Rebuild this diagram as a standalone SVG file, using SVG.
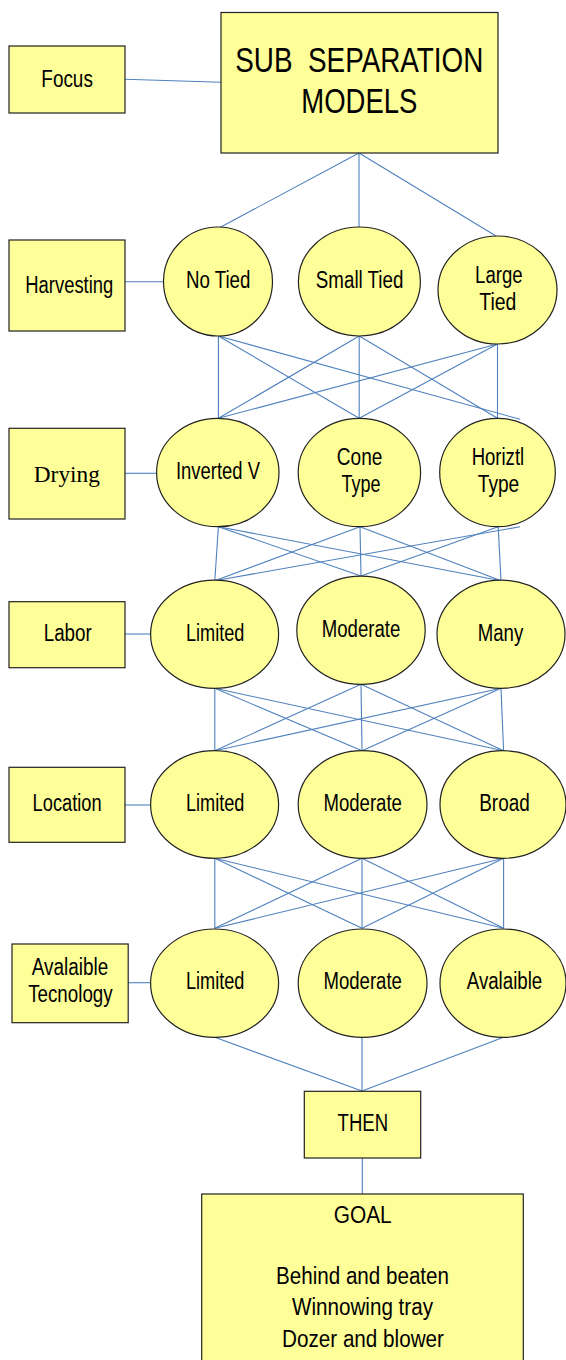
<svg xmlns="http://www.w3.org/2000/svg" width="566" height="1360" viewBox="0 0 566 1360">
<style>
.b{fill:#FFFF99;stroke:#222;stroke-width:1.2}
.t{font-family:"Liberation Sans",Arial,sans-serif;font-size:23px;fill:#000;text-anchor:middle}
.s{font-family:"Liberation Serif","Times New Roman",serif;font-size:24px;fill:#000;text-anchor:middle}
.c line{stroke:#4F81BD;stroke-width:1.1}
</style>
<rect width="566" height="1360" fill="#fff"/>
<g class="c" id="connectors">
<line x1="125" y1="79.3" x2="221" y2="82.3"/>
<line x1="359" y1="153" x2="219" y2="228"/>
<line x1="359" y1="153" x2="359" y2="228"/>
<line x1="359" y1="153" x2="496" y2="236"/>
<line x1="115.5" y1="281.7" x2="163.5" y2="281.7"/>
<line x1="218.4" y1="336" x2="218.4" y2="418.3"/>
<line x1="218.4" y1="336" x2="359.2" y2="418.3"/>
<line x1="218.4" y1="336" x2="520" y2="419.3"/>
<line x1="359.2" y1="336" x2="218.4" y2="418.3"/>
<line x1="359.2" y1="336" x2="359.2" y2="418.3"/>
<line x1="359.2" y1="336" x2="497.5" y2="418.3"/>
<line x1="497.5" y1="344" x2="218.4" y2="418.3"/>
<line x1="497.5" y1="344" x2="359.2" y2="418.3"/>
<line x1="497.5" y1="344" x2="497.5" y2="418.3"/>
<line x1="125" y1="473.3" x2="156.7" y2="473.3"/>
<line x1="218.4" y1="526.7" x2="214.8" y2="580.7"/>
<line x1="218.4" y1="526.7" x2="361" y2="576"/>
<line x1="218.4" y1="526.7" x2="501" y2="580.7"/>
<line x1="360" y1="526.7" x2="214.8" y2="580.7"/>
<line x1="360" y1="526.7" x2="361" y2="576"/>
<line x1="360" y1="526.7" x2="501" y2="580.7"/>
<line x1="520" y1="526.7" x2="214.8" y2="580.7"/>
<line x1="498.2" y1="526.7" x2="361" y2="576"/>
<line x1="498.2" y1="526.7" x2="501" y2="580.7"/>
<line x1="125" y1="634" x2="150.5" y2="634"/>
<line x1="214.8" y1="688.3" x2="214.8" y2="750.7"/>
<line x1="214.8" y1="688.3" x2="362" y2="750.7"/>
<line x1="214.8" y1="688.3" x2="503.6" y2="750.7"/>
<line x1="361" y1="684.3" x2="214.8" y2="750.7"/>
<line x1="361" y1="684.3" x2="362" y2="750.7"/>
<line x1="361" y1="684.3" x2="503.6" y2="750.7"/>
<line x1="501" y1="688.3" x2="214.8" y2="750.7"/>
<line x1="501" y1="688.3" x2="362" y2="750.7"/>
<line x1="501" y1="688.3" x2="503.6" y2="750.7"/>
<line x1="125" y1="805" x2="150.5" y2="805"/>
<line x1="214.8" y1="858.3" x2="214.8" y2="928.3"/>
<line x1="214.8" y1="858.3" x2="362" y2="928.3"/>
<line x1="214.8" y1="858.3" x2="503.6" y2="928.3"/>
<line x1="362" y1="858.3" x2="214.8" y2="928.3"/>
<line x1="362" y1="858.3" x2="362" y2="928.3"/>
<line x1="362" y1="858.3" x2="503.6" y2="928.3"/>
<line x1="503.6" y1="858.3" x2="214.8" y2="928.3"/>
<line x1="503.6" y1="858.3" x2="362" y2="928.3"/>
<line x1="503.6" y1="858.3" x2="503.6" y2="928.3"/>
<line x1="128.2" y1="982.7" x2="150.5" y2="982.7"/>
<line x1="214.8" y1="1037.3" x2="362" y2="1091"/>
<line x1="362" y1="1037.3" x2="362" y2="1091"/>
<line x1="503.6" y1="1037.3" x2="362" y2="1091"/>
<line x1="362.3" y1="1158" x2="362.3" y2="1194"/>
</g>
<g id="title"><rect class="b" x="221" y="12.5" width="277" height="140.5"/>
<text class="t" style="font-size:35px" x="359.3" y="71.7" textLength="248" lengthAdjust="spacingAndGlyphs" xml:space="preserve">SUB  SEPARATION</text>
<text class="t" style="font-size:35px" x="359.3" y="113.3" textLength="116" lengthAdjust="spacingAndGlyphs">MODELS</text></g>
<g id="focus"><rect class="b" x="9" y="46" width="116" height="67"/><text class="t" x="67.1" y="86.7" textLength="51.5" lengthAdjust="spacingAndGlyphs">Focus</text></g>
<g id="harvesting"><rect class="b" x="9" y="240" width="116" height="91"/><text class="t" x="69.3" y="293.3" textLength="88" lengthAdjust="spacingAndGlyphs">Harvesting</text></g>
<g id="notied"><ellipse class="b" cx="218" cy="281.5" rx="54.5" ry="54.5"/><text class="t" x="218.2" y="288.3" textLength="64.5" lengthAdjust="spacingAndGlyphs">No Tied</text></g>
<g id="smalltied"><ellipse class="b" cx="359.4" cy="281.5" rx="61" ry="54.5"/><text class="t" x="359.6" y="288.3" textLength="87.5" lengthAdjust="spacingAndGlyphs">Small Tied</text></g>
<g id="largetied"><ellipse class="b" cx="497.5" cy="290" rx="59.5" ry="54"/><text class="t" x="498.8" y="282.7" textLength="47.5" lengthAdjust="spacingAndGlyphs">Large</text><text class="t" x="497.8" y="310" textLength="37" lengthAdjust="spacingAndGlyphs">Tied</text></g>
<g id="drying"><rect class="b" x="9" y="428.3" width="116" height="90.7"/><text class="s" x="66.8" y="481.7" textLength="66" lengthAdjust="spacingAndGlyphs">Drying</text></g>
<g id="invertedv"><ellipse class="b" cx="217.8" cy="472.5" rx="61.2" ry="54.2"/><text class="t" x="218" y="479.3" textLength="84" lengthAdjust="spacingAndGlyphs">Inverted V</text></g>
<g id="cone"><ellipse class="b" cx="359.4" cy="472.5" rx="61.2" ry="54.2"/><text class="t" x="359.6" y="465" textLength="45.5" lengthAdjust="spacingAndGlyphs">Cone</text><text class="t" x="361" y="491.7" textLength="39" lengthAdjust="spacingAndGlyphs">Type</text></g>
<g id="horiztl"><ellipse class="b" cx="497.5" cy="472.5" rx="57.8" ry="54.2"/><text class="t" x="497.9" y="465" textLength="52.5" lengthAdjust="spacingAndGlyphs">Horiztl</text><text class="t" x="498.5" y="492" textLength="41.5" lengthAdjust="spacingAndGlyphs">Type</text></g>
<g id="labor"><rect class="b" x="9" y="601.7" width="116" height="66"/><text class="t" x="67.7" y="640.7" textLength="48" lengthAdjust="spacingAndGlyphs">Labor</text></g>
<g id="labor-limited"><ellipse class="b" cx="214.6" cy="634.2" rx="64" ry="54.1"/><text class="t" x="215.2" y="640.7" textLength="58.5" lengthAdjust="spacingAndGlyphs">Limited</text></g>
<g id="labor-moderate"><ellipse class="b" cx="361" cy="630.2" rx="64.2" ry="54.1"/><text class="t" x="361" y="636.7" textLength="78.5" lengthAdjust="spacingAndGlyphs">Moderate</text></g>
<g id="labor-many"><ellipse class="b" cx="501" cy="634.2" rx="64" ry="54.1"/><text class="t" x="500.5" y="640.7" textLength="45.5" lengthAdjust="spacingAndGlyphs">Many</text></g>
<g id="location"><rect class="b" x="9" y="767.3" width="116" height="75"/><text class="t" x="67.1" y="810.7" textLength="69" lengthAdjust="spacingAndGlyphs">Location</text></g>
<g id="loc-limited"><ellipse class="b" cx="214.6" cy="804.5" rx="64" ry="53.8"/><text class="t" x="215.2" y="810.7" textLength="58.5" lengthAdjust="spacingAndGlyphs">Limited</text></g>
<g id="loc-moderate"><ellipse class="b" cx="362.6" cy="804.5" rx="64.4" ry="53.8"/><text class="t" x="362.7" y="810.7" textLength="78.5" lengthAdjust="spacingAndGlyphs">Moderate</text></g>
<g id="loc-broad"><ellipse class="b" cx="503" cy="804.5" rx="63" ry="53.8"/><text class="t" x="504.5" y="810.7" textLength="50.5" lengthAdjust="spacingAndGlyphs">Broad</text></g>
<g id="technology"><rect class="b" x="12" y="944" width="116.2" height="78.7"/><text class="t" x="70" y="975" textLength="76.5" lengthAdjust="spacingAndGlyphs">Avalaible</text><text class="t" x="70.4" y="1002" textLength="84.5" lengthAdjust="spacingAndGlyphs">Tecnology</text></g>
<g id="tech-limited"><ellipse class="b" cx="214.6" cy="983.2" rx="64" ry="54.2"/><text class="t" x="215.2" y="989.3" textLength="58.5" lengthAdjust="spacingAndGlyphs">Limited</text></g>
<g id="tech-moderate"><ellipse class="b" cx="362.6" cy="983.2" rx="64.4" ry="54.2"/><text class="t" x="362.7" y="989.3" textLength="78.5" lengthAdjust="spacingAndGlyphs">Moderate</text></g>
<g id="tech-avalaible"><ellipse class="b" cx="503" cy="983.2" rx="63" ry="54.2"/><text class="t" x="504.5" y="989.3" textLength="75.5" lengthAdjust="spacingAndGlyphs">Avalaible</text></g>
<g id="then"><rect class="b" x="304.3" y="1091.3" width="116.4" height="66.7"/><text class="t" x="362.8" y="1130.7" textLength="50.5" lengthAdjust="spacingAndGlyphs">THEN</text></g>
<g id="goal"><rect class="b" x="201.7" y="1194" width="321.6" height="180"/>
<text class="t" x="362.7" y="1222.7" textLength="58" lengthAdjust="spacingAndGlyphs">GOAL</text>
<text class="t" x="362.5" y="1284" textLength="173" lengthAdjust="spacingAndGlyphs">Behind and beaten</text>
<text class="t" x="362.5" y="1315" textLength="141" lengthAdjust="spacingAndGlyphs">Winnowing tray</text>
<text class="t" x="363" y="1346.7" textLength="162" lengthAdjust="spacingAndGlyphs">Dozer and blower</text></g>
</svg>
